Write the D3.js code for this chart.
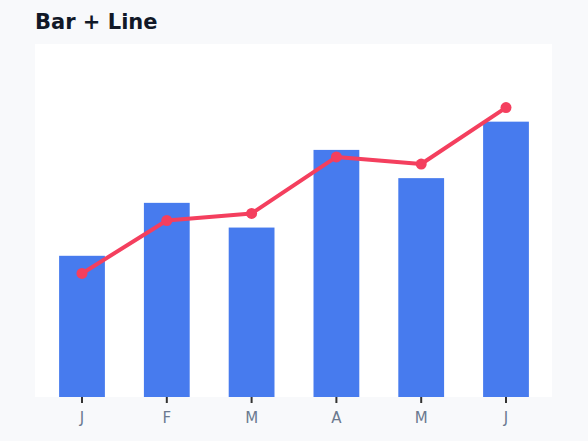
<!DOCTYPE html>
<html lang="en">
<head>
  <meta charset="UTF-8">
  <title>Bar + Line</title>
  <script src="https://d3js.org/d3.v7.min.js"></script>
  <style>
    body { margin: 0; background: #f8f9fb; font-family: "DejaVu Sans", sans-serif; }
  </style>
</head>
<body>
<script>
  // chart data
  const months = ['J', 'F', 'M', 'A', 'M', 'J'];
  const barValues = [40, 55, 48, 70, 62, 78];
  const lineValues = [35, 50, 52, 68, 66, 82];

  const width = 588, height = 441;

  const svg = d3.select('body').append('svg')
    .attr('width', width)
    .attr('height', height);

  svg.append('rect')
    .attr('width', width)
    .attr('height', height)
    .attr('fill', '#f8f9fb');

  // title
  svg.append('text')
    .attr('x', 35)
    .attr('y', 29)
    .attr('font-size', 21)
    .attr('font-weight', 'bold')
    .attr('fill', '#111827')
    .text('Bar + Line');

  // white plot area
  svg.append('rect')
    .attr('x', 35)
    .attr('y', 44)
    .attr('width', 517)
    .attr('height', 353)
    .attr('fill', '#ffffff');

  // index keys because month letters repeat
  const x = d3.scaleBand()
    .domain(d3.range(months.length))
    .range([39.6, 548.4])
    .paddingInner(0.46)
    .paddingOuter(0.23);

  const y = d3.scaleLinear()
    .domain([0, 100])
    .range([397, 44]);

  svg.selectAll('rect.bar')
    .data(barValues)
    .enter().append('rect')
    .attr('class', 'bar')
    .attr('x', (d, i) => x(i))
    .attr('y', d => y(d))
    .attr('width', x.bandwidth())
    .attr('height', d => y(0) - y(d))
    .attr('fill', '#477bee');

  const line = d3.line()
    .x((d, i) => x(i) + x.bandwidth() / 2)
    .y(d => y(d));

  svg.append('path')
    .datum(lineValues)
    .attr('d', line)
    .attr('fill', 'none')
    .attr('stroke', '#f43f5e')
    .attr('stroke-width', 4)
    .attr('stroke-linejoin', 'round');

  svg.selectAll('circle.pt')
    .data(lineValues)
    .enter().append('circle')
    .attr('class', 'pt')
    .attr('cx', (d, i) => x(i) + x.bandwidth() / 2)
    .attr('cy', d => y(d))
    .attr('r', 5.5)
    .attr('fill', '#f43f5e');

  // x axis
  const xAxis = svg.append('g')
    .attr('transform', 'translate(0,397)')
    .call(d3.axisBottom(x).tickFormat(i => months[i]).tickSize(6).tickPadding(9));

  xAxis.select('.domain').remove();
  xAxis.selectAll('.tick line')
    .attr('stroke', '#333')
    .attr('stroke-width', 2);
  xAxis.selectAll('.tick text')
    .attr('fill', '#6b7a90')
    .attr('font-size', 15)
    .attr('font-family', '"DejaVu Sans", sans-serif');
</script>
</body>
</html>
